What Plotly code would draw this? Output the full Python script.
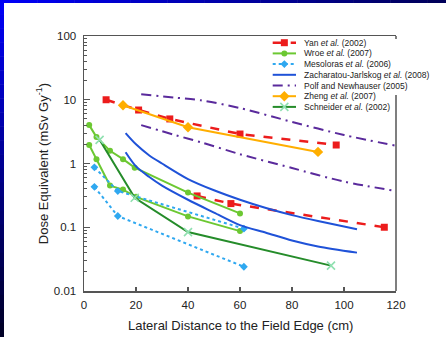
import plotly.graph_objects as go

# ---------------- data ----------------
yan_x1 = [8.5, 21, 33, 60, 97]
yan_y1 = [10, 6.9, 5.0, 2.9, 1.95]
yan_x2 = [43.5, 56.5, 115.5]
yan_y2 = [0.31, 0.235, 0.1]

wroe_xa = [2, 4.8, 10, 15, 19.5, 40, 60]
wroe_ya = [4.0, 2.6, 1.58, 1.17, 0.86, 0.35, 0.165]
wroe_xb = [2, 4.8, 10, 15, 20, 40, 60]
wroe_yb = [1.95, 1.17, 0.45, 0.39, 0.30, 0.148, 0.087]

meso_xa = [4, 13, 61.5]
meso_ya = [0.87, 0.37, 0.095]
meso_xb = [4, 13, 61.5]
meso_yb = [0.43, 0.15, 0.024]

zach_x = [16, 20, 25, 30, 40, 50, 60, 70, 80, 90, 105]
zach_ya = [3.0, 2.0, 1.35, 1.0, 0.57, 0.38, 0.27, 0.2, 0.155, 0.125, 0.093]
zach_yb = [1.5, 0.9, 0.62, 0.45, 0.27, 0.17, 0.108, 0.082, 0.062, 0.05, 0.04]

polf_x = [22, 35, 45, 60, 80, 100, 120]
polf_ya = [12.2, 10.8, 9.8, 7.4, 4.5, 2.8, 1.9]
polf_yb = [4.0, 2.8, 2.15, 1.4, 0.85, 0.52, 0.37]

zheng_x = [15, 40, 90]
zheng_y = [8.2, 3.7, 1.52]

schn_x = [6, 19.5, 40, 95]
schn_y = [2.35, 0.29, 0.084, 0.025]

x_ticks = [0, 20, 40, 60, 80, 100, 120]
y_ticks = [0.01, 0.1, 1, 10, 100]
y_ticktext = ["0.01", "0.1", "1", "10", "100"]

# ---------------- styles ----------------
FONT = "Liberation Sans, Arial, Helvetica, sans-serif"
RED = "#ec1c1c"
LGREEN = "#6cc832"
LBLUE = "#2fa8f0"
BLUE = "#1f52d8"
PURPLE = "#5a2a9c"
ORANGE = "#ffae00"
DGREEN = "#258c2a"
POLF_DASH = "10px,5px,2px,5px"

series = [
    dict(name="Yan <i>et al.</i> (2002)", color=RED, dash="dash", width=2.5,
         symbol="square", msize=7, mcolor=RED,
         data=[(yan_x1, yan_y1), (yan_x2, yan_y2)], spline=False),
    dict(name="Wroe <i>et al.</i> (2007)", color=LGREEN, dash="solid", width=2,
         symbol="circle", msize=6, mcolor=LGREEN,
         data=[(wroe_xa, wroe_ya), (wroe_xb, wroe_yb)], spline=False),
    dict(name="Mesoloras <i>et al.</i> (2006)", color=LBLUE, dash="dot", width=2,
         symbol="diamond", msize=6, mcolor=LBLUE,
         data=[(meso_xa, meso_ya), (meso_xb, meso_yb)], spline=False),
    dict(name="Zacharatou-Jarlskog <i>et al.</i> (2008)", color=BLUE, dash="solid", width=2,
         symbol=None, msize=0, mcolor=BLUE,
         data=[(zach_x, zach_ya), (zach_x, zach_yb)], spline=True),
    dict(name="Polf and Newhauser (2005)", color=PURPLE, dash=POLF_DASH, width=2,
         symbol=None, msize=0, mcolor=PURPLE,
         data=[(polf_x, polf_ya), (polf_x, polf_yb)], spline=True),
    dict(name="Zheng <i>et al.</i> (2007)", color=ORANGE, dash="solid", width=2,
         symbol="diamond", msize=8, mcolor=ORANGE,
         data=[(zheng_x, zheng_y)], spline=False),
    dict(name="Schneider <i>et al.</i> (2002)", color=DGREEN, dash="solid", width=2,
         symbol="x-thin-open", msize=8, mcolor="#8fe0b0",
         data=[(schn_x, schn_y)], spline=False),
]

fig = go.Figure()


def marker_for(s):
    if s["symbol"] is None:
        return None
    if s["symbol"].startswith("x-thin"):
        return dict(symbol=s["symbol"], size=s["msize"], color=s["mcolor"],
                    line=dict(color=s["mcolor"], width=1.6))
    return dict(symbol=s["symbol"], size=s["msize"], color=s["mcolor"],
                line=dict(width=0))


for s in series:
    for xs, ys in s["data"]:
        mk = marker_for(s)
        fig.add_trace(go.Scatter(
            x=xs, y=ys,
            mode="lines+markers" if mk else "lines",
            line=dict(color=s["color"], dash=s["dash"], width=s["width"],
                      shape="spline" if s["spline"] else "linear",
                      smoothing=0.8),
            marker=mk,
            showlegend=False, hoverinfo="skip",
        ))

# ---------------- custom legend (pixel-positioned overlay axis) ----------------
PL, PR, PT, PB = 84, 396, 36, 291      # plot area in pixels
W, H = 446, 337
LEG_X0, LEG_X1, LEG_TXT = 272.7, 296, 302
LEG_Y0, LEG_DY = 42.7, 10.7

for i, s in enumerate(series):
    ry = LEG_Y0 + i * LEG_DY
    fig.add_trace(go.Scatter(
        x=[LEG_X0, LEG_X1], y=[ry, ry], mode="lines",
        line=dict(color=s["color"], dash=s["dash"], width=s["width"]),
        xaxis="x2", yaxis="y2", showlegend=False, hoverinfo="skip"))
    mk = marker_for(s)
    if mk:
        fig.add_trace(go.Scatter(
            x=[(LEG_X0 + LEG_X1) / 2], y=[ry], mode="markers", marker=mk,
            xaxis="x2", yaxis="y2", showlegend=False, hoverinfo="skip"))
    fig.add_annotation(
        text=s["name"], xref="paper", yref="paper",
        x=(LEG_TXT - PL) / (PR - PL), y=(PB - ry) / (PB - PT),
        xanchor="left", yanchor="middle", showarrow=False,
        font=dict(family=FONT, size=8.5, color="#222"))

# axis titles
fig.add_annotation(text="Lateral Distance to the Field Edge (cm)",
                   xref="paper", yref="paper", x=0.5, y=(PB - 325) / (PB - PT),
                   xanchor="center", yanchor="middle", showarrow=False,
                   font=dict(family=FONT, size=13, color="#222"))
fig.add_annotation(text="Dose Equivalent (mSv Gy<sup>-1</sup>)",
                   xref="paper", yref="paper", x=(41.7 - PL) / (PR - PL), y=0.5,
                   xanchor="center", yanchor="middle", showarrow=False, textangle=-90,
                   font=dict(family=FONT, size=13, color="#222"))

# ---------------- frame / border shapes ----------------
shapes = []
AX = "#555555"
# right border (partly hidden behind legend as in reference)
shapes.append(dict(type="line", xref="paper", yref="paper", x0=1, x1=1,
                   y0=0, y1=(PB - 95) / (PB - PT), line=dict(color=AX, width=1.5), layer="above"))
shapes.append(dict(type="line", xref="paper", yref="paper", x0=1, x1=1,
                   y0=(PB - 39) / (PB - PT), y1=1, line=dict(color=AX, width=1.5), layer="above"))


def px2paper_x(px):
    return (px - PL) / (PR - PL)


def px2paper_y(py):
    return (PB - py) / (PB - PT)


def lerp(c0, c1, t):
    return "rgb(%d,%d,%d)" % tuple(round(a + (b - a) * t) for a, b in zip(c0, c1))


N = 24
for k in range(N):
    t = k / (N - 1)
    # top bar: bright blue -> dark navy
    shapes.append(dict(type="rect", xref="paper", yref="paper",
                       x0=px2paper_x(W * k / N), x1=px2paper_x(W * (k + 1) / N + 0.5),
                       y0=px2paper_y(3), y1=px2paper_y(-1),
                       fillcolor=lerp((0, 0, 245), (0, 0, 90), t), line=dict(width=0), layer="above"))
    # left bar: bright blue -> very dark navy
    shapes.append(dict(type="rect", xref="paper", yref="paper",
                       x0=px2paper_x(-1), x1=px2paper_x(4),
                       y0=px2paper_y(H * (k + 1) / N + 0.5), y1=px2paper_y(H * k / N),
                       fillcolor=lerp((0, 0, 245), (0, 0, 40), t), line=dict(width=0), layer="above"))

fig.update_layout(
    width=W, height=H,
    margin=dict(l=PL, r=W - PR, t=PT, b=H - PB),
    paper_bgcolor="white", plot_bgcolor="white",
    showlegend=False,
    font=dict(family=FONT, color="#222"),
    shapes=shapes,
    xaxis=dict(range=[0, 120], tickvals=x_ticks, ticks="inside", ticklen=4,
               tickwidth=1.2, tickcolor=AX, showgrid=False, zeroline=False,
               showline=True, linecolor=AX, linewidth=1.5, mirror=True,
               tickfont=dict(family=FONT, size=11.5, color="#222"),
               ticklabelstandoff=3),
    yaxis=dict(type="log", range=[-2, 2], tickvals=y_ticks, ticktext=y_ticktext,
               ticks="inside", ticklen=6, tickwidth=1.2, tickcolor=AX,
               showgrid=False, zeroline=False, showline=True, linecolor=AX,
               linewidth=1.5, mirror=False,
               minor=dict(ticks="inside", ticklen=3, tickwidth=1, tickcolor=AX,
                          tickvals=[m * 10 ** e for e in range(-2, 2) for m in range(2, 10)]),
               tickfont=dict(family=FONT, size=11.5, color="#222"),
               ticklabelstandoff=4),
    xaxis2=dict(overlaying="x", range=[PL, PR], visible=False, domain=[0, 1]),
    yaxis2=dict(overlaying="y", range=[PB, PT], visible=False, domain=[0, 1]),
)

fig.write_html("out.html",
               config={"displayModeBar": False, "staticPlot": True},
               post_script="document.body.style.margin='0';document.body.style.padding='0';")
